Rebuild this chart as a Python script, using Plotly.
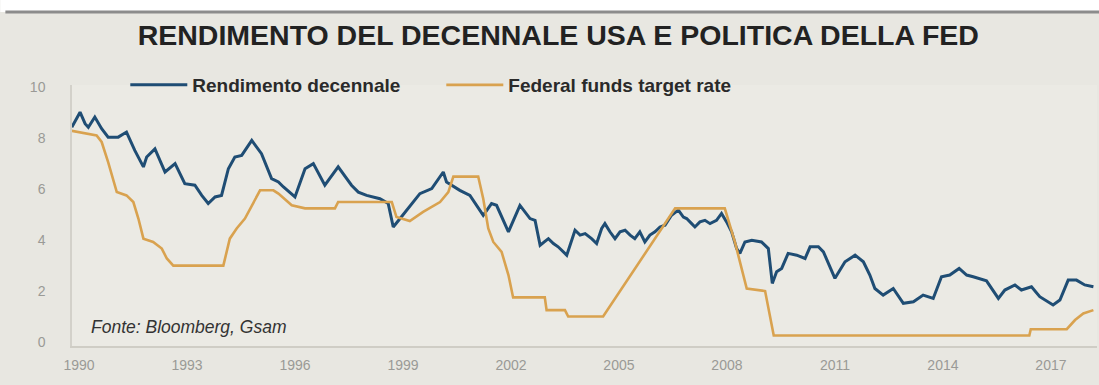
import plotly.graph_objects as go

# ---- data (decimal years, percent) ----
yield_years = [1989.80, 1990.03, 1990.17, 1990.26, 1990.44, 1990.63, 1990.81, 1991.09, 1991.32, 1991.55,
               1991.79, 1991.88, 1992.11, 1992.39, 1992.67, 1992.94, 1993.22, 1993.41, 1993.59, 1993.78,
               1993.96, 1994.15, 1994.33, 1994.52, 1994.80, 1995.07, 1995.35, 1995.54, 1995.68, 1996.00,
               1996.28, 1996.51, 1996.83, 1997.20, 1997.57, 1997.76, 1997.99, 1998.36, 1998.59, 1998.73,
               1998.92, 1999.10, 1999.47, 1999.80, 2000.12, 2000.21, 2000.58, 2000.86, 2001.23, 2001.46,
               2001.60, 2001.93, 2002.25, 2002.53, 2002.67, 2002.81, 2003.04, 2003.18, 2003.31, 2003.55,
               2003.69, 2003.78, 2003.92, 2004.06, 2004.24, 2004.38, 2004.52, 2004.61, 2004.75, 2004.89,
               2005.03, 2005.17, 2005.31, 2005.44, 2005.58, 2005.72, 2005.86, 2006.00, 2006.14, 2006.28,
               2006.46, 2006.65, 2006.79, 2006.88, 2007.02, 2007.11, 2007.25, 2007.39, 2007.53, 2007.71,
               2007.85, 2007.99, 2008.13, 2008.27, 2008.36, 2008.50, 2008.69, 2008.96, 2009.15, 2009.26,
               2009.38, 2009.52, 2009.70, 2009.94, 2010.17, 2010.31, 2010.54, 2010.68, 2011.00, 2011.28,
               2011.56, 2011.79, 2011.97, 2012.11, 2012.34, 2012.62, 2012.90, 2013.18, 2013.45, 2013.73,
               2013.96, 2014.19, 2014.45, 2014.66, 2014.84, 2015.21, 2015.54, 2015.72, 2016.00, 2016.18,
               2016.46, 2016.69, 2017.06, 2017.25, 2017.48, 2017.71, 2017.94, 2018.18]
yield_values = [8.44, 9.03, 8.58, 8.44, 8.84, 8.38, 8.05, 8.05, 8.25, 7.53,
                6.88, 7.27, 7.59, 6.68, 7.01, 6.22, 6.16, 5.76, 5.44, 5.70,
                5.76, 6.81, 7.27, 7.33, 7.92, 7.40, 6.42, 6.29, 6.09, 5.70,
                6.81, 7.01, 6.16, 6.88, 6.16, 5.89, 5.76, 5.63, 5.44, 4.52,
                4.85, 5.18, 5.83, 6.03, 6.68, 6.29, 5.96, 5.76, 4.98, 5.44,
                5.37, 4.33, 5.37, 4.85, 4.78, 3.80, 4.06, 3.87, 3.74, 3.41,
                4.06, 4.39, 4.20, 4.26, 4.06, 3.87, 4.46, 4.65, 4.33, 4.06,
                4.33, 4.39, 4.20, 4.06, 4.33, 3.93, 4.20, 4.33, 4.52, 4.59,
                4.98, 5.18, 4.91, 4.85, 4.65, 4.52, 4.72, 4.78, 4.65, 4.78,
                5.05, 4.72, 4.33, 3.67, 3.48, 3.93, 4.00, 3.93, 3.67, 2.30,
                2.76, 2.89, 3.48, 3.41, 3.28, 3.74, 3.74, 3.54, 2.50, 3.15,
                3.41, 3.15, 2.63, 2.10, 1.84, 2.10, 1.52, 1.58, 1.84, 1.71,
                2.56, 2.63, 2.89, 2.63, 2.56, 2.40, 1.71, 2.04, 2.24, 2.04,
                2.17, 1.78, 1.45, 1.65, 2.43, 2.43, 2.24, 2.17]

fed_years = [1989.80, 1990.49, 1990.63, 1990.81, 1991.05, 1991.32, 1991.51, 1991.65, 1991.79, 1992.06,
             1992.30, 1992.44, 1992.62, 1994.01, 1994.19, 1994.38, 1994.61, 1994.80, 1995.03, 1995.40,
             1995.54, 1995.91, 1996.28, 1997.11, 1997.20, 1998.69, 1998.82, 1999.19, 1999.56, 2000.03,
             2000.26, 2000.40, 2001.09, 2001.23, 2001.37, 2001.51, 2001.74, 2001.93, 2002.06, 2002.94,
             2002.99, 2003.50, 2003.59, 2004.56, 2006.56, 2007.94, 2008.22, 2008.55, 2009.06, 2009.30,
             2016.40, 2016.44, 2017.44, 2017.67, 2017.90, 2018.18]
fed_values = [8.30, 8.12, 7.86, 7.07, 5.89, 5.76, 5.50, 4.85, 4.06, 3.93,
              3.67, 3.28, 3.00, 3.00, 4.06, 4.46, 4.85, 5.37, 5.96, 5.96,
              5.83, 5.37, 5.25, 5.25, 5.50, 5.50, 4.91, 4.75, 5.11, 5.50,
              5.89, 6.50, 6.50, 5.63, 4.46, 3.93, 3.54, 2.63, 1.75, 1.75,
              1.25, 1.25, 1.00, 1.00, 5.25, 5.25, 3.93, 2.10, 2.00, 0.25,
              0.25, 0.50, 0.50, 0.86, 1.12, 1.25]

x_ticks = [1990, 1993, 1996, 1999, 2002, 2005, 2008, 2011, 2014, 2017]
y_ticks = [0, 2, 4, 6, 8, 10]

title_text = "RENDIMENTO DEL DECENNALE USA E POLITICA DELLA FED"
source_text = "Fonte: Bloomberg, Gsam"
name_yield = "Rendimento decennale"
name_fed = "Federal funds target rate"

BLUE = "#1f4d74"
ORANGE = "#d9a24f"
PAPER = "#e8e7e1"
PLOT = "#ebeae4"
SANS = "Liberation Sans, Arial, Helvetica, sans-serif"

fig = go.Figure()
fig.add_trace(go.Scatter(x=yield_years, y=yield_values, mode="lines", name=name_yield,
                         line=dict(color=BLUE, width=3)))
fig.add_trace(go.Scatter(x=fed_years, y=fed_values, mode="lines", name=name_fed,
                         line=dict(color=ORANGE, width=2.6)))

fig.update_layout(
    width=1099, height=385,
    margin=dict(l=72, r=2, t=85, b=39),
    paper_bgcolor=PAPER, plot_bgcolor=PLOT,
    title=dict(text=f"<b>{title_text}</b>", x=0.508, xanchor="center", y=0.91, yanchor="middle",
               font=dict(family=SANS, size=28.5, color="#222222")),
    showlegend=True,
    legend=dict(orientation="h", x=0.052, xanchor="left", y=1.0, yanchor="middle",
                bgcolor="rgba(0,0,0,0)", itemwidth=57, entrywidth=244, entrywidthmode="pixels",
                font=dict(family=SANS, size=19, color="#2a2a2a", weight="bold"),
                itemclick=False, itemdoubleclick=False),
    xaxis=dict(range=[1989.806, 2018.28], tickvals=x_ticks, ticktext=[str(t) for t in x_ticks],
               showgrid=False, zeroline=False, showline=True, linecolor="#cfcdc5", linewidth=1.5,
               ticks="", ticklabelstandoff=5,
               tickfont=dict(family=SANS, size=14, color="#9a9a96")),
    yaxis=dict(range=[-0.16, 10.1], tickvals=y_ticks, showgrid=False, zeroline=False,
               showline=True, linecolor="#d3d1ca", linewidth=1.5, ticks="", ticklabelstandoff=22,
               tickfont=dict(family=SANS, size=14, color="#9a9a96")),
    shapes=[
        dict(type="rect", xref="paper", yref="paper", x0=-0.07, x1=1.01, y0=1.28, y1=1.335,
             fillcolor="#ffffff", line=dict(width=0), layer="below"),
        dict(type="line", xref="paper", yref="paper", x0=-0.065, x1=1.01, y0=1.28, y1=1.28,
             line=dict(color="#8c8c8c", width=3)),
    ],
    annotations=[
        dict(text=f"<i>{source_text}</i>", xref="paper", yref="paper", x=0.0165, y=0.072,
             xanchor="left", yanchor="middle", showarrow=False,
             font=dict(family=SANS, size=17.5, color="#333333")),
    ],
)

fig.write_html("out.html")
